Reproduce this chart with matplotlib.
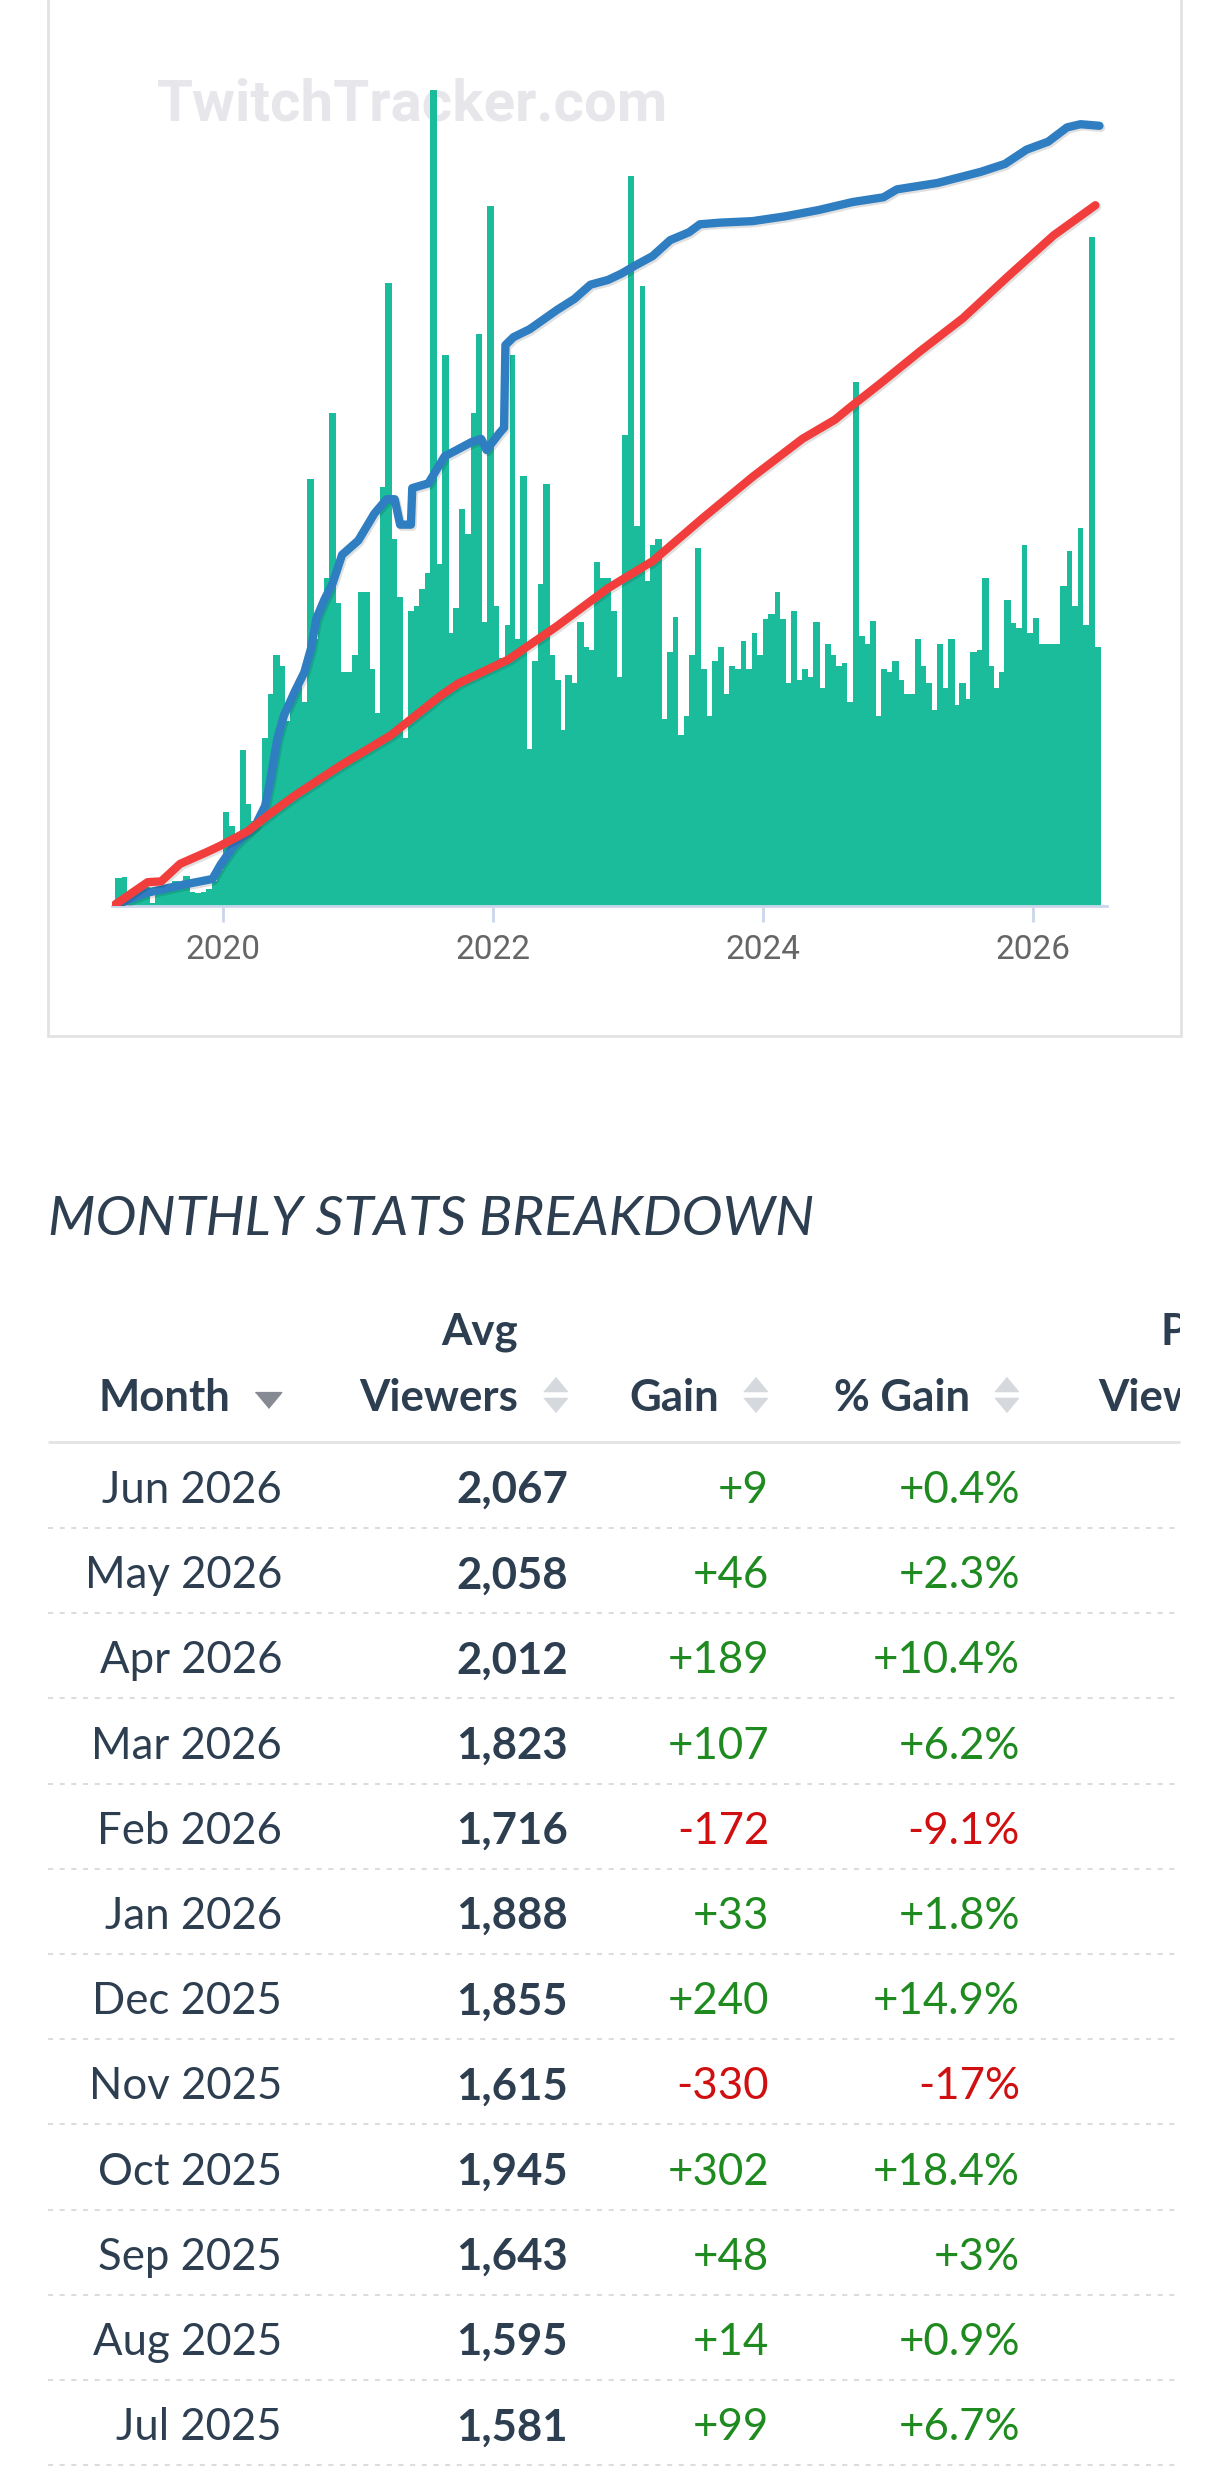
import numpy as np
import pandas as pd
import matplotlib
matplotlib.use('Agg')
import matplotlib.pyplot as plt
import matplotlib.patheffects as pe
from matplotlib.patches import Rectangle
from matplotlib.transforms import Bbox

# --- chart data (no y axis so units are relative) ---
# average viewers per half-month, Mar 2019 .. Jun 2026
viewers = [200, 212, 100, 120, 140, 140, 20, 120, 140, 160, 180, 140, 220, 100, 92,
           100, 120, 180, 260, 680, 580, 500, 1132, 740, 620, 580, 1220, 1540, 1820, 1740,
           1340, 1500, 1620, 1480, 3100, 1940, 2140, 2380, 3580, 2200, 1700, 1700, 1820, 2280,
           2280, 1720, 1400, 3040, 4520, 2660, 2240, 1220, 2140, 2180, 2300, 2420, 5920, 2480,
           4000, 1980, 2160, 2880, 2700, 3580, 4152, 2060, 5080, 2180, 1800, 2040, 4000, 1940,
           3120, 1140, 1780, 2340, 3060, 1820, 1640, 1280, 1680, 1620, 2060, 1880, 1860, 2500,
           2380, 2380, 2140, 1660, 3420, 5300, 2760, 4500, 2360, 2620, 2660, 1360, 1840, 2100,
           1240, 1380, 1820, 2600, 1720, 1380, 1780, 1880, 1540, 1740, 1720, 1920, 1720, 1980,
           1820, 2080, 2120, 2280, 2080, 1620, 2140, 1640, 1720, 1660, 2060, 1580, 1900, 1820,
           1740, 1760, 1480, 3800, 1960, 1900, 2072, 1380, 1720, 1700, 1780, 1640, 1540, 1540,
           1940, 1740, 1620, 1420, 1900, 1580, 1940, 1460, 1620, 1500, 1840, 1860, 2380, 1740,
           1580, 1700, 2220, 2052, 2020, 2620, 1980, 2092, 1900, 1900, 1900, 1900, 2320, 2580,
           2180, 2740, 2040, 4852, 1880]

# followers (blue)
follow_years = [2019.21, 2019.42, 2019.68, 2019.92, 2019.98, 2020.08, 2020.24, 2020.31,
                2020.35, 2020.40, 2020.45, 2020.53, 2020.60, 2020.65, 2020.69, 2020.75,
                2020.81, 2020.88, 2021.00, 2021.12, 2021.21, 2021.27, 2021.31, 2021.39,
                2021.40, 2021.52, 2021.59, 2021.64, 2021.73, 2021.84, 2021.91, 2021.95,
                2022.04, 2022.08, 2022.09, 2022.15, 2022.27, 2022.47, 2022.60, 2022.72,
                2022.85, 2022.95, 2023.05, 2023.18, 2023.31, 2023.45, 2023.53, 2023.67,
                2023.92, 2024.16, 2024.41, 2024.66, 2024.89, 2024.99, 2025.29, 2025.61,
                2025.79, 2025.95, 2026.11, 2026.25, 2026.35, 2026.49]
followers = [100, 800, 1300, 1700, 2600, 3800, 5100, 6300, 8000, 10500, 12000, 13500,
             14700, 16200, 18100, 19300, 20300, 22100, 23000, 24700, 25600, 25600, 24000,
             24000, 26300, 26600, 27600, 28300, 28700, 29200, 29400, 28700, 29700, 30100,
             35300, 35800, 36300, 37500, 38200, 39100, 39400, 39800, 40300, 40900, 41900,
             42400, 42900, 43000, 43100, 43400, 43800, 44300, 44600, 45100, 45500, 46200,
             46700, 47600, 48100, 49000, 49200, 49100]

# hours streamed (red)
hours_years = [2019.20, 2019.44, 2019.54, 2019.68, 2019.88, 2019.98, 2020.18, 2020.33,
               2020.53, 2020.87, 2021.24, 2021.61, 2021.74, 2022.11, 2022.47, 2022.85,
               2023.18, 2023.55, 2023.92, 2024.29, 2024.53, 2024.66, 2024.87, 2025.16,
               2025.48, 2025.81, 2026.15, 2026.46]
hours = [10, 150, 155, 265, 340, 380, 470, 570, 695, 885, 1074, 1324, 1400, 1550, 1760,
         2000, 2170, 2440, 2700, 2940, 3060, 3150, 3290, 3490, 3700, 3960, 4220, 4410]

tick_years = [2020, 2022, 2024, 2026]

# --- monthly table ---
months = ['Jun 2026', 'May 2026', 'Apr 2026', 'Mar 2026', 'Feb 2026', 'Jan 2026',
          'Dec 2025', 'Nov 2025', 'Oct 2025', 'Sep 2025', 'Aug 2025', 'Jul 2025']
avg_viewers = [2067, 2058, 2012, 1823, 1716, 1888, 1855, 1615, 1945, 1643, 1595, 1581]
gain = [9, 46, 189, 107, -172, 33, 240, -330, 302, 48, 14, 99]
pct_gain = [0.4, 2.3, 10.4, 6.2, -9.1, 1.8, 14.9, -17, 18.4, 3, 0.9, 6.7]

###############################################################
W, H = 1220, 2478
fig = plt.figure(figsize=(W / 100, H / 100), dpi=100)
bg = fig.add_axes([0, 0, 1, 1])
bg.set_xlim(0, W)
bg.set_ylim(H, 0)
bg.axis('off')


def fig_rect(x0, y0, x1, y1):
    return [x0 / W, 1 - y1 / H, (x1 - x0) / W, (y1 - y0) / H]


def dec_year(d):
    return d.year + (d.dayofyear - 1) / np.where(d.is_leap_year, 366, 365)


TXT = '#2c3e50'
GREEN = '#1f8a1f'
RED = '#d01010'

# card frame + watermark
bg.add_patch(Rectangle((47.7, -20), 1180.6 - 47.7, 1036 + 20, fill=False,
                       ec='#e2e2e2', lw=2))
bg.text(157, 120.6, 'TwitchTracker.com', fontfamily='Roboto', fontweight='bold',
        fontsize=42, color='#e7e7eb', va='baseline')

# chart
ax = fig.add_axes(fig_rect(112, 60, 1107, 906))
ax.patch.set_visible(False)
edges = dec_year(pd.date_range('2019-03-15', periods=len(viewers) + 1, freq='SMS'))
widths = np.diff(edges)
ax.bar(edges[:-1], viewers, width=widths * 1.08, align='edge', color='#1abc9c', lw=0)
ax.set_xlim(2019.176, 2026.546)
ax.set_ylim(0, 6140)
for s in ['top', 'left', 'right']:
    ax.spines[s].set_visible(False)
ax.spines['bottom'].set_color('#ccd6eb')
ax.spines['bottom'].set_linewidth(2)
ax.set_yticks([])
ax.set_xticks(tick_years, labels=[str(y) for y in tick_years], fontfamily='Roboto')
ax.tick_params(axis='x', length=11.5, width=2, color='#ccd6eb', labelsize=24,
               labelcolor='#666666', pad=9)

shadow = [pe.SimpleLineShadow(offset=(1.2, -1.5), shadow_color='k', alpha=0.12),
          pe.Normal()]
axb = ax.twinx()
axb.plot(follow_years, followers, color='#2f7ec2', lw=6, solid_capstyle='round',
         solid_joinstyle='round', path_effects=shadow)
axb.set_ylim(0, 53240)
axb.axis('off')
axr = ax.twinx()
axr.plot(hours_years, hours, color='#f23d3d', lw=6, solid_capstyle='round',
         solid_joinstyle='round', path_effects=shadow)
axr.set_ylim(0, 5324)
axr.axis('off')

# table
bg.text(48, 1235, 'MONTHLY STATS BREAKDOWN', fontfamily='Lato', fontstyle='italic',
        fontsize=39.6, color=TXT, va='baseline')

hdr = dict(fontfamily='Lato', fontweight='bold', fontsize=31.5, color=TXT, va='baseline')
bg.text(518, 1345, 'Avg', ha='right', **hdr)
bg.text(99, 1411, 'Month', ha='left', **hdr)
bg.text(518, 1411, 'Viewers', ha='right', **hdr)
bg.text(719, 1411, 'Gain', ha='right', **hdr)
bg.text(970, 1411, '% Gain', ha='right', **hdr)
clip = Bbox([[0, 0], [1180, H]])
for yy, s in [(1345, 'Peak'), (1411, 'Viewers')]:
    t = bg.text(1257, yy, s, ha='right', **hdr)
    t.set_clip_box(clip)
    t.set_clip_on(True)

down = [(-1, 0.6), (1, 0.6), (0, -0.6)]
up = [(-1, -0.6), (1, -0.6), (0, 0.6)]
bg.plot(268, 1400, marker=down, ms=19, color='#858a93', ls='none')
for xx in [555, 755, 1006]:
    bg.plot(xx, 1384, marker=up, ms=17, color='#d5d9dd', ls='none')
    bg.plot(xx, 1405, marker=down, ms=17, color='#d5d9dd', ls='none')

bg.plot([47.7, 1180], [1442, 1442], color='#e4e4e4', lw=2, solid_capstyle='butt')

row_font = dict(fontfamily='Lato', fontsize=31.5, va='baseline', ha='right')
for i, m in enumerate(months):
    yb = 1503 + 85.2 * i
    col = GREEN if gain[i] >= 0 else RED
    bg.text(282, yb, m, color=TXT, **row_font)
    bg.text(568, yb, f'{avg_viewers[i]:,}', color=TXT, fontweight='bold', **row_font)
    bg.text(769, yb, f'{gain[i]:+d}', color=col, **row_font)
    bg.text(1020, yb, f'{pct_gain[i]:+g}%', color=col, **row_font)
    ys = 1528 + 85.2 * i
    bg.plot([47.7, 1180], [ys, ys], color='#dcdcdc', lw=1.45, ls=(0, (2.5, 3.3)))

plt.savefig('out.png', dpi=100)
